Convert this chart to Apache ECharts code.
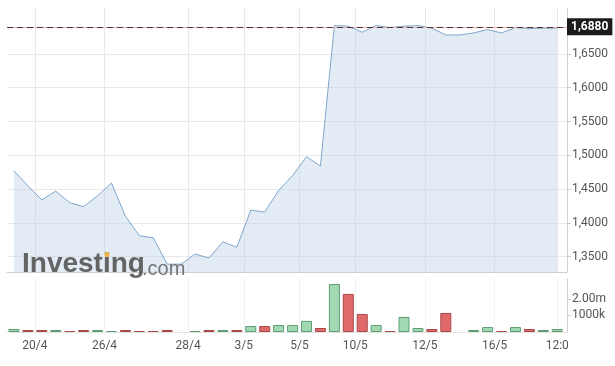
<!DOCTYPE html>
<html>
<head>
<meta charset="utf-8">
<script src="https://cdn.jsdelivr.net/npm/echarts@6/dist/echarts.min.js"></script>
<style>
html,body{margin:0;padding:0;background:#fff;}
#c{width:615px;height:366px;}
</style>
</head>
<body>
<div id="c"></div>
<script>
// ---- data ----
const priceValues = [1.477,1.455,1.434,1.447,1.430,1.424,1.440,1.459,1.410,1.381,
                     1.378,1.339,1.339,1.354,1.348,1.372,1.364,1.419,1.416,1.448,
                     1.470,1.498,1.484,1.692,1.691,1.682,1.692,1.689,1.691,1.692,
                     1.688,1.678,1.678,1.681,1.686,1.681,1.689,1.6875,1.688,1.688];
// volume in millions (null = no trading)
const volumeValues = [0.18,0.12,0.12,0.12,0.06,0.12,0.12,0.06,0.12,0.06,
                      0.06,0.12,null,0.06,0.12,0.12,0.12,0.36,0.36,0.42,
                      0.42,0.67,0.24,2.90,2.30,1.09,0.42,0.06,0.91,0.24,
                      0.18,1.15,null,0.12,0.30,0.06,0.30,0.18,0.12,0.18];
const volumeDir = ['u','d','d','u','d','d','u','u','d','d',
                   'd','d','', 'u','d','u','d','u','d','u',
                   'u','u','d','u','d','d','u','d','u','u',
                   'd','d','', 'u','u','d','u','d','u','u'];
const xTickPositions = [1.5,6.5,12.5,16.5,20.5,24.5,29.5,34.5,39];
const xTickLabels = ['20/4','26/4','28/4','3/5','5/5','10/5','12/5','16/5','12:0'];
const priceTicks = [1.35,1.40,1.45,1.50,1.55,1.60,1.65];
const volumeTicks = [1000000,2000000];
const volumeTickLabels = ['1000k','2.00m'];
const lastPrice = 1.688;
const lastPriceLabel = '1,6880';

// ---- chart ----
const FONT = 'Roboto';
const GREEN = {color:'#a2d8b2', borderColor:'#5f9d72', borderWidth:1};
const RED = {color:'#e06a6a', borderColor:'#a94848', borderWidth:1};

const priceData = priceValues.map((v,i)=>[i,v]);
const volumeData = volumeValues.map((v,i)=> v==null ? null : {
  value:[i, v*1000000],
  itemStyle: volumeDir[i]==='u' ? GREEN : RED
}).filter(d=>d);

function xLabel(v){
  const k = xTickPositions.findIndex(p=>Math.abs(p-v)<1e-6);
  return k>=0 ? xTickLabels[k] : '';
}
function volLabel(v){
  const k = volumeTicks.findIndex(p=>Math.abs(p-v)<1);
  return k>=0 ? volumeTickLabels[k] : '';
}

const chart = echarts.init(document.getElementById('c'), null, {renderer:'canvas'});
const option = {
  animation:false,
  textStyle:{fontFamily:FONT},
  grid:[
    {left:7, right:48, top:8, bottom:94},
    {left:7, right:48, top:279, bottom:34}
  ],
  xAxis:[
    {type:'value', gridIndex:0, min:-0.5, max:39.7,
     axisLine:{show:true, onZero:false, lineStyle:{color:'#cfcfcf'}},
     axisTick:{show:false, customValues:xTickPositions},
     axisLabel:{show:false, customValues:xTickPositions},
     splitLine:{show:true, lineStyle:{color:'#e9e9e9'}}},
    {type:'value', gridIndex:1, min:-0.5, max:39.7,
     axisLine:{show:true, onZero:false, lineStyle:{color:'#e3e3e3'}},
     axisTick:{show:false, customValues:xTickPositions},
     axisLabel:{show:true, customValues:xTickPositions, formatter:xLabel,
                color:'#555', fontSize:12, fontFamily:FONT, margin:8},
     splitLine:{show:true, lineStyle:{color:'#f1f1f1'}}}
  ],
  yAxis:[
    {type:'value', gridIndex:0, position:'right', min:1.3274, max:1.7179,
     axisLine:{show:true, onZero:false, lineStyle:{color:'#d0d0d0'}},
     axisTick:{show:true, length:4, customValues:priceTicks, lineStyle:{color:'#cfcfcf'}},
     axisLabel:{customValues:priceTicks, color:'#555', fontSize:12, fontFamily:FONT, margin:5,
                formatter:v=>v.toFixed(4).replace('.',',')},
     splitLine:{show:true, lineStyle:{color:'#e9e9e9'}}},
    {type:'value', gridIndex:1, position:'right', min:0, max:3200000,
     axisLine:{show:true, onZero:false, lineStyle:{color:'#d0d0d0'}},
     axisTick:{show:true, length:4, customValues:volumeTicks, lineStyle:{color:'#cfcfcf'}},
     axisLabel:{customValues:volumeTicks, color:'#555', fontSize:12, fontFamily:FONT, margin:5,
                formatter:volLabel},
     splitLine:{show:false}}
  ],
  series:[
    {type:'line', xAxisIndex:0, yAxisIndex:0, data:priceData,
     showSymbol:false, symbol:'none',
     lineStyle:{color:'#7fa6cc', width:1},
     areaStyle:{color:'rgba(188,208,232,0.42)', opacity:1, origin:'start'},
     markLine:{silent:true, symbol:'none', animation:false,
       data:[
         {yAxis:lastPrice, lineStyle:{color:'#efb0b0', type:'solid', width:1}, label:{show:false}},
         {yAxis:lastPrice, lineStyle:{color:'#4a3434', type:[6,4], width:1},
          label:{show:true, position:'end', formatter:lastPriceLabel, distance:0,
                 backgroundColor:'#1c1c1c', color:'#fff', fontWeight:'bold',
                 fontSize:12, fontFamily:FONT, padding:[3,4,2,4]}}
       ]}
    },
    {type:'bar', xAxisIndex:1, yAxisIndex:1, data:volumeData, barWidth:11}
  ],
  graphic:[
    {type:'text', left:22, top:250, z:100, silent:true,
     style:{text:'Investing', font:'bold 28px "Liberation Sans"', fill:'rgba(88,88,88,0.92)'}},
    {type:'circle', z:101, silent:true, shape:{cx:107, cy:254.5, r:2.6},
     style:{fill:'#efb54a'}},
    {type:'text', left:142, top:259, z:100, silent:true,
     style:{text:'.com', font:'20px "Liberation Sans"', fill:'rgba(105,105,105,0.9)'}}
  ]
};
chart.setOption(option);
</script>
</body>
</html>
